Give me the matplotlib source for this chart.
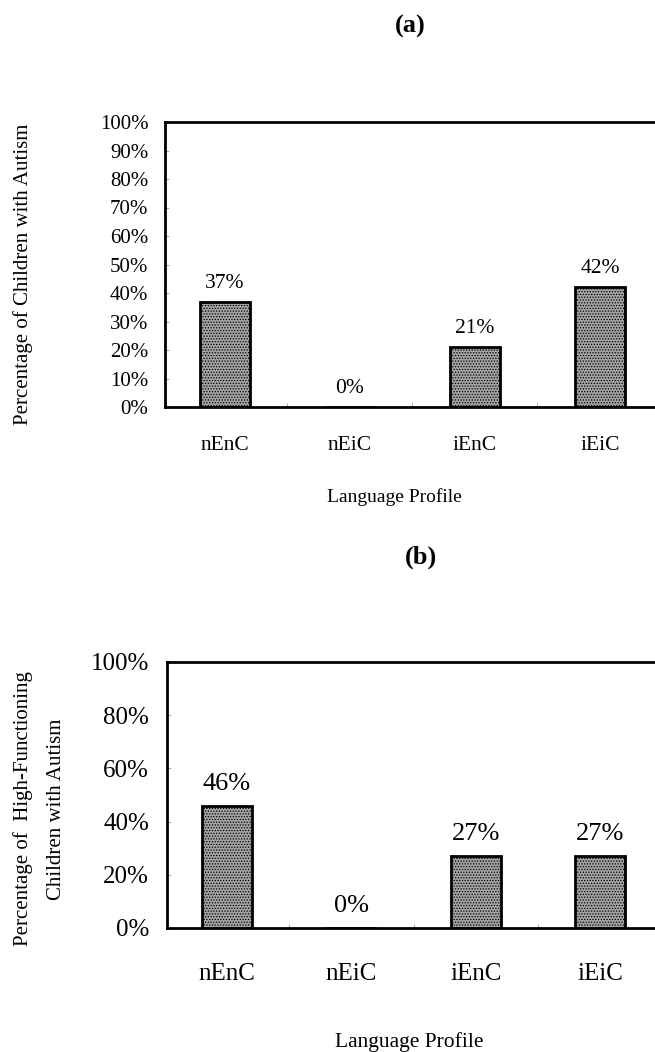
import matplotlib.pyplot as plt

categories = ["nEnC", "nEiC", "iEnC", "iEiC"]
pct_all = [37, 0, 21, 42]
pct_hf = [46, 0, 27, 27]
ticks_a = [0, 10, 20, 30, 40, 50, 60, 70, 80, 90, 100]
ticks_b = [0, 20, 40, 60, 80, 100]

plt.rcParams['font.family'] = ['Liberation Serif', 'DejaVu Serif']
plt.rcParams['hatch.color'] = '#6a6a6a'
plt.rcParams['hatch.linewidth'] = 0.6

W, H = 655, 1052
fig = plt.figure(figsize=(W / 100, H / 100), dpi=100)


def px_box(left, top, right, bottom):
    return [left / W, 1 - bottom / H, (right - left) / W, (bottom - top) / H]


def draw_panel(ax, vals, yticks, tick_fs, cat_fs, val_fs, val_off, ypad, xpad):
    x = range(len(categories))
    ax.bar(x, vals, width=0.4, color='#a3a3a3', edgecolor='black',
           linewidth=2, hatch='......')
    for xi, v in zip(x, vals):
        ax.annotate(f"{v}%", (xi, v), xytext=(0, val_off), textcoords='offset points',
                    ha='center', va='baseline', fontsize=val_fs)
    ax.set_xlim(-0.48, 3.48)
    ax.set_ylim(0, 100)
    ax.set_yticks(yticks)
    ax.set_yticklabels([f"{t}%" for t in yticks], fontsize=tick_fs)
    ax.set_xticks(list(x))
    ax.set_xticklabels(categories, fontsize=cat_fs)
    ax.tick_params(axis='x', length=0, pad=xpad)
    ax.tick_params(axis='y', direction='in', length=3, width=0.6, color='#999999', pad=ypad)
    ax.set_xticks([0.5, 1.5, 2.5], minor=True)
    ax.tick_params(axis='x', which='minor', direction='in', length=3, width=0.6, color='#999999')
    for s in ['top', 'left', 'bottom']:
        ax.spines[s].set_linewidth(2)
    ax.spines['right'].set_visible(False)


ax_a = fig.add_axes(px_box(165, 122, 660, 407))
draw_panel(ax_a, pct_all, ticks_a, 15, 15.5, 15.5, 10, 12, 21)
ax_b = fig.add_axes(px_box(167, 662, 660, 928))
draw_panel(ax_b, pct_hf, ticks_b, 18, 18, 19, 11.5, 13, 25)

fig.text(410 / W, 1 - 26 / H, "(a)", ha='center', va='center', fontsize=19, fontweight='bold')
fig.text(421 / W, 1 - 557 / H, "(b)", ha='center', va='center', fontsize=19, fontweight='bold')

fig.text(23 / W, 1 - 274 / H, "Percentage of Children with Autism", rotation=90,
         ha='center', va='center', fontsize=15)
fig.text(39.5 / W, 1 - 809 / H, "Percentage of  High-Functioning\nChildren with Autism",
         rotation=90, ha='center', va='center', fontsize=15, linespacing=2.05)

fig.text(394 / W, 1 - 497 / H, "Language Profile", ha='center', va='center', fontsize=14)
fig.text(409 / W, 1 - 1042 / H, "Language Profile", ha='center', va='center', fontsize=15.5)

fig.savefig("out.png", dpi=100)
